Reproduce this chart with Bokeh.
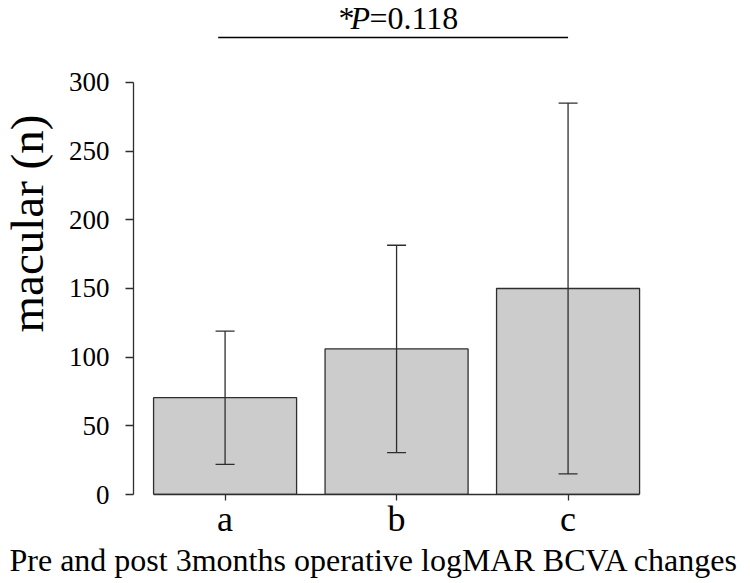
import math
from bokeh.plotting import figure
from bokeh.models import (ColumnDataSource, Range1d, FixedTicker, Whisker, TeeHead, Label, Title)
from bokeh.embed import file_html
from bokeh.resources import INLINE

# ---- data ----
categories = ["a", "b", "c"]
means = [70.5, 106.0, 150.0]
sds = [48.5, 75.5, 135.0]
y_ticks = [0, 50, 100, 150, 200, 250, 300]
p_text = "=0.118"
x_title = "Pre and post 3months operative logMAR BCVA changes"
y_title = "macular (n)"

xs = list(range(len(categories)))
upper = [m + s for m, s in zip(means, sds)]
lower = [m - s for m, s in zip(means, sds)]
src = ColumnDataSource(dict(x=xs, top=means, upper=upper, lower=lower))

FONT = "Liberation Serif"
AX = "#2e2e2e"

p = figure(width=750, height=583, output_backend="svg", toolbar_location=None,
           x_range=Range1d(-0.534, 2.539), y_range=Range1d(0, 359.7),
           min_border_left=133, min_border_right=90, min_border_top=0,
           min_border_bottom=89)
p.outline_line_color = None
p.xgrid.visible = False
p.ygrid.visible = False
p.background_fill_color = "white"
p.border_fill_color = "white"

p.vbar(x="x", top="top", width=0.834, bottom=0, source=src,
       fill_color="#cccccc", line_color=AX, line_width=1.3)

w = Whisker(base="x", upper="upper", lower="lower", source=src,
            line_color=AX, line_width=1.3, level="overlay",
            upper_head=TeeHead(size=19, line_color=AX, line_width=1.3),
            lower_head=TeeHead(size=19, line_color=AX, line_width=1.3))
p.add_layout(w)

# axes
ya = p.yaxis[0]
ya.ticker = FixedTicker(ticks=y_ticks)
ya.bounds = (0, 300)
ya.major_tick_out = 8
ya.major_tick_in = 0
ya.minor_tick_out = 0
ya.minor_tick_in = 0
ya.major_label_standoff = 16
ya.major_label_text_font = FONT
ya.major_label_text_font_size = "27px"
ya.major_label_text_color = "black"
ya.axis_line_color = AX
ya.axis_line_width = 1.3
ya.major_tick_line_color = AX
ya.major_tick_line_width = 1.3

xa = p.xaxis[0]
xa.ticker = FixedTicker(ticks=xs)
xa.major_label_overrides = {i: c for i, c in zip(xs, categories)}
xa.bounds = (-0.417, 2.417)
xa.major_tick_out = 6
xa.major_tick_in = 0
xa.minor_tick_out = 0
xa.minor_tick_in = 0
xa.major_label_standoff = -2
xa.major_label_text_font = FONT
xa.major_label_text_font_size = "36px"
xa.major_label_text_color = "black"
xa.axis_line_color = AX
xa.axis_line_width = 1.3
xa.major_tick_line_color = AX
xa.major_tick_line_width = 1.3

# significance bar
p.segment(x0=[xs[0] - 0.04], y0=[332.8], x1=[xs[-1]], y1=[332.8],
          line_color="black", line_width=1.5)

TY = 477
p.add_layout(Label(x=205, y=TY, x_units="screen", y_units="screen", text="*",
                   text_font=FONT, text_font_size="32px", text_color="black",
                   text_align="left", text_baseline="alphabetic"))
p.add_layout(Label(x=217, y=TY, x_units="screen", y_units="screen", text="P",
                   text_font=FONT, text_font_size="32px", text_font_style="italic",
                   text_color="black", text_align="left", text_baseline="alphabetic"))
p.add_layout(Label(x=236, y=TY, x_units="screen", y_units="screen", text=p_text,
                   text_font=FONT, text_font_size="32px", text_color="black",
                   text_align="left", text_baseline="alphabetic"))

# spacer between tick labels and the y title
p.add_layout(Title(text=" ", standoff=0, text_font_size="8px"), "left")
# axis titles
p.add_layout(Title(text=y_title, align="left", offset=162, standoff=0,
                   vertical_align="top",
                   text_font=FONT, text_font_size="47px", text_font_style="normal",
                   text_color="black"), "left")
p.add_layout(Title(text=x_title, align="left", offset=-124, standoff=0,
                   vertical_align="top",
                   text_font=FONT, text_font_size="32px", text_font_style="normal",
                   text_color="black"), "below")

open("out.html", "w").write(file_html(p, INLINE))
